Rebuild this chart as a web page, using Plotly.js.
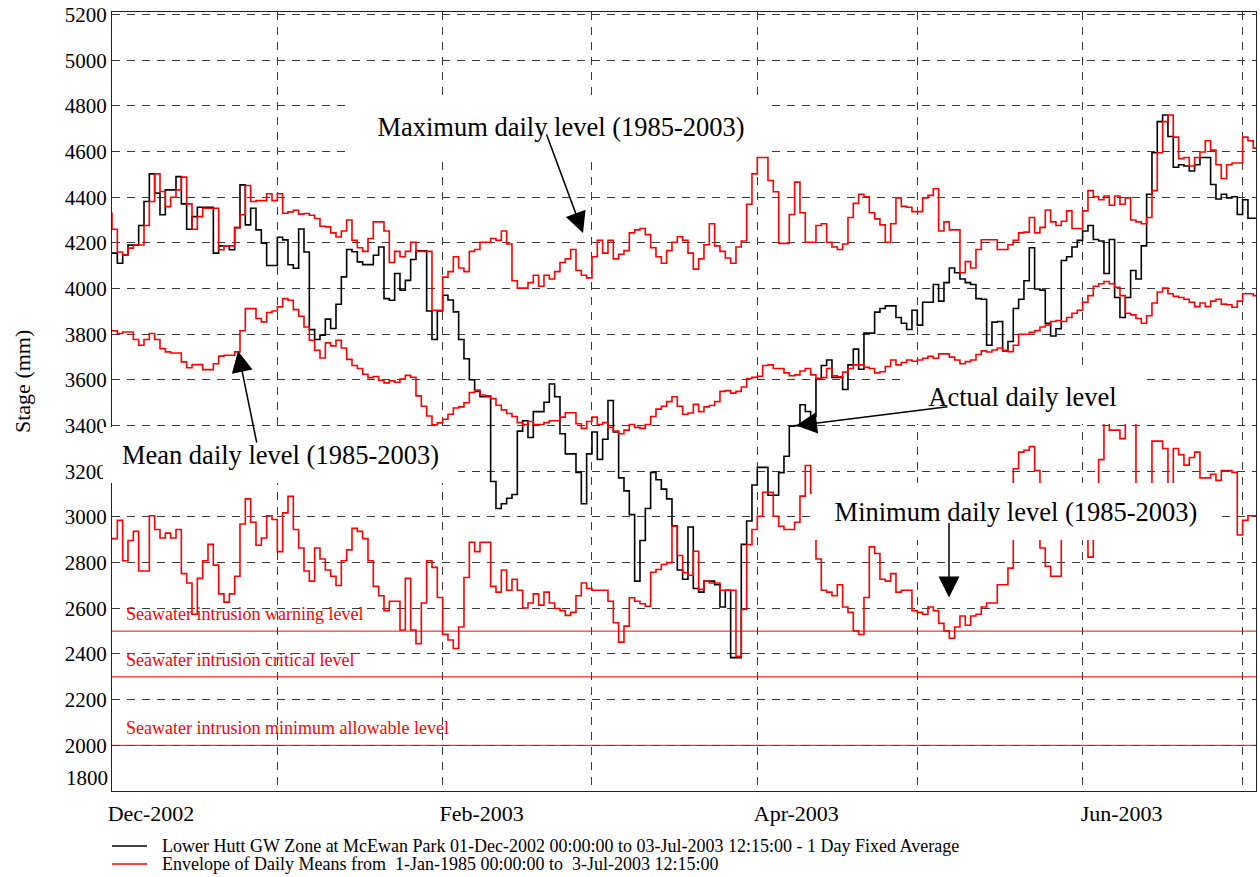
<!DOCTYPE html>
<html>
<head>
<meta charset="utf-8">
<script src="https://cdn.plot.ly/plotly-3.0.1.min.js"></script>
<style>
html,body{margin:0;padding:0;background:#fff;}
#chart{width:1260px;height:877px;}
</style>
</head>
<body>
<div id="chart"></div>
<script>
// ---------- DATA ----------
// day offsets from 1-Dec-2002 00:00, stage in mm (step series, 1-day fixed averages)
const seriesStart = Date.UTC(2002, 11, 1);
const seriesEndDay = 214.51; // 3-Jul-2003 12:15

const actualSteps = [[0,4155],[1,4111],[2,4147],[3,4190],[5,4276],[6,4381],[7,4502],[8,4418],[9,4323],[10,4432],[12,4490],[13,4371],[14,4260],[15,4315],[16,4356],[19,4155],[20,4187],[22,4170],[23,4267],[24,4454],[25,4279],[26,4352],[27,4257],[28,4199],[29,4101],[31,4225],[32,4213],[33,4104],[34,4089],[35,4261],[36,4160],[37,3820],[38,3777],[39,3796],[40,3866],[41,3825],[42,3931],[43,4051],[44,4171],[45,4161],[46,4117],[47,4105],[49,4146],[50,4182],[51,3956],[52,3949],[53,4066],[54,3993],[55,4036],[56,4127],[57,4165],[59,3902],[60,3777],[61,3902],[62,3971],[63,3950],[64,3898],[65,3777],[66,3693],[67,3601],[68,3550],[69,3526],[71,3155],[72,3037],[73,3058],[74,3082],[75,3098],[76,3376],[77,3421],[78,3348],[79,3461],[81,3502],[82,3582],[83,3526],[84,3364],[85,3276],[87,3195],[88,3058],[89,3276],[90,3372],[91,3252],[92,3340],[93,3510],[94,3372],[95,3171],[96,3114],[97,3010],[98,2719],[99,2897],[100,3037],[101,3195],[102,3163],[103,3122],[104,3079],[105,2961],[106,2768],[107,2727],[108,2956],[109,2687],[110,2671],[111,2719],[113,2703],[114,2606],[115,2679],[116,2384],[118,2880],[119,2982],[120,3140],[121,3217],[123,3095],[125,3194],[126,3266],[127,3397],[128,3400],[129,3491],[130,3462],[131,3440],[132,3606],[133,3663],[134,3687],[135,3611],[137,3558],[138,3666],[139,3735],[140,3647],[141,3805],[143,3897],[144,3913],[145,3924],[147,3873],[148,3848],[149,3821],[150,3905],[151,3840],[152,3940],[154,4018],[155,3945],[156,4026],[157,4090],[158,4069],[159,4042],[160,4026],[161,4018],[162,3956],[163,3953],[164,3752],[165,3853],[166,3856],[167,3727],[168,3768],[169,3913],[170,3953],[171,4034],[172,4179],[173,3998],[174,3993],[175,3848],[176,3792],[177,3824],[178,4123],[179,4139],[180,4182],[181,4211],[182,4252],[183,4276],[184,4215],[185,4208],[186,4066],[187,4215],[188,3961],[189,3873],[190,3961],[191,4079],[192,4042],[193,4187],[194,4413],[195,4595],[196,4731],[197,4760],[198,4666],[199,4531],[200,4542],[201,4537],[202,4515],[203,4542],[204,4574],[206,4456],[207,4392],[208,4413],[209,4397],[210,4402],[211,4324],[212,4389],[213,4308],[214.51,4308]];

const maxSteps = [[-1,4330],[0,4260],[1,4160],[2,4147],[3,4177],[4,4191],[6,4276],[7,4381],[8,4502],[9,4425],[10,4359],[11,4400],[12,4432],[13,4488],[14,4371],[15,4260],[16,4315],[17,4352],[20,4170],[21,4187],[23,4267],[24,4323],[25,4451],[26,4381],[27,4385],[29,4415],[30,4385],[31,4415],[32,4330],[33,4336],[34,4343],[35,4326],[36,4329],[37,4321],[38,4307],[39,4273],[40,4270],[41,4244],[42,4226],[43,4252],[44,4300],[45,4211],[46,4179],[47,4163],[48,4219],[49,4292],[51,4252],[52,4114],[53,4163],[54,4139],[55,4163],[56,4203],[57,4163],[60,3905],[62,4050],[63,4074],[64,4139],[65,4090],[66,4074],[67,4163],[68,4171],[69,4203],[71,4219],[72,4211],[73,4252],[74,4195],[75,4034],[76,4002],[78,4026],[79,4058],[80,4010],[81,4058],[82,4042],[83,4074],[84,4114],[85,4130],[86,4171],[87,4079],[88,4058],[89,4047],[90,4139],[91,4211],[92,4155],[93,4211],[94,4130],[95,4150],[96,4166],[97,4244],[98,4257],[99,4263],[100,4236],[101,4179],[102,4139],[103,4111],[104,4166],[105,4203],[106,4227],[107,4211],[108,4155],[109,4085],[110,4130],[111,4192],[112,4284],[113,4187],[114,4163],[115,4134],[116,4111],[117,4182],[118,4208],[119,4369],[120,4502],[121,4574],[123,4473],[124,4424],[125,4198],[127,4324],[128,4466],[129,4332],[130,4203],[132,4276],[133,4284],[134,4203],[135,4182],[136,4171],[137,4195],[138,4311],[139,4373],[140,4413],[141,4402],[142,4332],[143,4305],[144,4279],[145,4203],[146,4284],[147,4397],[148,4360],[149,4356],[150,4337],[152,4397],[153,4408],[154,4437],[155,4252],[156,4292],[157,4257],[159,4069],[160,4118],[161,4090],[162,4171],[163,4214],[166,4171],[168,4192],[169,4211],[170,4244],[171,4247],[172,4311],[173,4244],[174,4268],[175,4344],[176,4292],[177,4276],[178,4295],[179,4340],[180,4263],[182,4340],[183,4429],[184,4402],[185,4389],[186,4405],[187,4365],[188,4405],[189,4369],[190,4397],[191,4300],[192,4292],[193,4284],[194,4311],[195,4429],[196,4595],[197,4731],[198,4760],[199,4663],[200,4569],[201,4574],[202,4537],[203,4574],[204,4598],[205,4647],[206,4606],[207,4542],[208,4482],[209,4542],[210,4550],[212,4663],[213,4647],[214,4615],[214.51,4615]];

const meanSteps = [[0,3815],[1,3803],[2,3810],[4,3777],[5,3752],[6,3777],[7,3803],[8,3777],[9,3737],[10,3723],[11,3718],[13,3679],[14,3653],[15,3667],[17,3645],[19,3671],[20,3704],[21,3708],[23,3723],[24,3815],[25,3912],[27,3869],[28,3854],[29,3895],[30,3902],[31,3920],[32,3956],[33,3949],[34,3908],[35,3879],[36,3832],[37,3774],[38,3730],[39,3696],[40,3762],[41,3749],[42,3774],[43,3740],[44,3690],[45,3663],[46,3650],[47,3625],[48,3610],[49,3615],[50,3598],[51,3587],[52,3596],[53,3590],[54,3604],[55,3620],[56,3612],[57,3530],[58,3485],[59,3442],[60,3403],[61,3412],[62,3428],[63,3450],[64,3477],[65,3482],[66,3500],[67,3545],[68,3556],[69,3534],[70,3530],[71,3518],[72,3489],[73,3469],[74,3453],[75,3440],[76,3413],[77,3405],[78,3418],[79,3405],[81,3413],[82,3421],[84,3437],[85,3456],[87,3408],[88,3388],[89,3418],[90,3437],[91,3405],[92,3413],[93,3392],[94,3376],[95,3364],[96,3380],[97,3405],[98,3392],[99,3388],[100,3405],[101,3440],[102,3472],[103,3485],[104,3505],[105,3526],[106,3485],[107,3450],[108,3455],[109,3493],[110,3461],[111,3482],[112,3488],[113,3505],[114,3550],[115,3553],[116,3542],[117,3550],[118,3569],[119,3606],[120,3611],[121,3616],[122,3663],[123,3666],[124,3650],[126,3631],[127,3618],[128,3622],[129,3639],[130,3650],[131,3622],[132,3606],[133,3610],[134,3650],[135,3618],[136,3614],[137,3634],[138,3650],[139,3666],[141,3655],[142,3650],[143,3631],[144,3636],[145,3659],[146,3687],[147,3666],[148,3676],[149,3687],[150,3682],[151,3687],[152,3695],[153,3703],[154,3695],[155,3714],[157,3700],[158,3687],[159,3671],[160,3680],[161,3687],[162,3711],[163,3727],[164,3722],[165,3731],[166,3740],[167,3730],[168,3724],[169,3752],[170,3800],[172,3808],[173,3816],[174,3832],[175,3840],[176,3856],[177,3860],[178,3856],[179,3873],[180,3892],[181,3905],[182,3940],[183,3969],[184,4010],[185,4021],[186,4031],[187,4021],[188,4005],[189,3969],[190,3892],[191,3885],[192,3869],[193,3848],[194,3881],[195,3937],[196,3985],[197,4002],[198,3977],[199,3966],[200,3961],[201,3953],[202,3940],[203,3921],[204,3937],[205,3921],[206,3945],[207,3953],[208,3932],[209,3929],[210,3918],[211,3945],[212,3977],[214,3969],[214.51,3969]];

const minSteps = [[0,2905],[1,2985],[2,2808],[3,2897],[4,2937],[5,2763],[7,3005],[8,2945],[9,2908],[10,2929],[11,2908],[12,2945],[13,2752],[14,2711],[15,2574],[16,2731],[17,2808],[18,2880],[19,2789],[20,2663],[21,2627],[22,2663],[23,2740],[24,2969],[25,3079],[26,2977],[27,2876],[28,2908],[29,3005],[30,2989],[31,2848],[32,3018],[33,3090],[34,2945],[35,2864],[36,2763],[37,2719],[38,2864],[39,2816],[40,2768],[41,2740],[42,2700],[43,2808],[44,2856],[45,2950],[46,2937],[47,2905],[48,2808],[49,2696],[50,2655],[51,2590],[52,2631],[54,2505],[55,2731],[56,2505],[57,2445],[58,2623],[59,2808],[60,2779],[61,2647],[62,2486],[63,2461],[64,2424],[65,2518],[66,2735],[67,2889],[68,2848],[69,2889],[71,2696],[72,2671],[73,2768],[74,2679],[75,2727],[76,2679],[77,2601],[78,2623],[79,2663],[80,2614],[81,2671],[82,2623],[83,2599],[84,2590],[85,2569],[86,2582],[87,2655],[88,2711],[89,2687],[90,2679],[93,2631],[94,2537],[95,2452],[96,2522],[97,2646],[98,2631],[99,2620],[100,2609],[101,2758],[102,2770],[103,2792],[104,2800],[105,2959],[106,2831],[107,2756],[108,2745],[109,2850],[110,2683],[111,2719],[112,2711],[114,2679],[117,2390],[118,2595],[119,2879],[120,2945],[121,3003],[122,3108],[124,3003],[125,2959],[126,2945],[128,2977],[129,3091],[130,3225],[131,3105],[132,2816],[133,2679],[134,2671],[135,2655],[136,2703],[137,2606],[138,2582],[139,2501],[140,2485],[141,2647],[142,2869],[143,2840],[144,2727],[145,2719],[146,2752],[147,2671],[148,2679],[150,2590],[151,2582],[152,2574],[153,2606],[154,2590],[155,2534],[156,2501],[157,2469],[158,2518],[159,2566],[160,2526],[161,2566],[162,2574],[163,2606],[164,2623],[166,2703],[168,2776],[169,3211],[170,3284],[171,3292],[172,3308],[173,3203],[174,2864],[175,2784],[176,2740],[178,3050],[183,2824],[184,3050],[185,3251],[186,3420],[187,3380],[189,3343],[190,3450],[192,3050],[195,3332],[197,3300],[198,3100],[199,3300],[200,3273],[201,3227],[202,3260],[203,3284],[204,3171],[206,3187],[207,3160],[208,3203],[210,3195],[211,2921],[212,2985],[213,3005],[214.51,3005]];

const seawaterLevels = [2500, 2300, 2000];
const seawaterLabels = ['Seawater intrusion warning level', 'Seawater intrusion critical level', 'Seawater intrusion minimum allowable level'];

const monthTicks = ['2002-12-01','2003-01-01','2003-02-01','2003-03-01','2003-04-01','2003-05-01','2003-06-01','2003-07-01'];
const monthLabels = ['Dec-2002','','Feb-2003','','Apr-2003','','Jun-2003',''];
const stageTicks = [1800,2000,2200,2400,2600,2800,3000,3200,3400,3600,3800,4000,4200,4400,4600,4800,5000,5200];
const stageTitle = 'Stage (mm)';

const legendNames = ['Lower Hutt GW Zone at McEwan Park 01-Dec-2002 00:00:00 to 03-Jul-2003 12:15:00 - 1 Day Fixed Average',
                     'Envelope of Daily Means from  1-Jan-1985 00:00:00 to  3-Jul-2003 12:15:00'];
const legendColors = ['#000000', '#ff0000'];

// ---------- BUILD ----------
function dayToDate(d) {
  return new Date(seriesStart + d * 86400000).toISOString().slice(0, 19).replace('T', ' ');
}
function stepTrace(steps, color, name) {
  return {
    type: 'scatter', mode: 'lines',
    x: steps.map(p => dayToDate(p[0])),
    y: steps.map(p => p[1]),
    line: {shape: 'hv', color: color, width: 1.6},
    name: name, showlegend: false, hoverinfo: 'skip'
  };
}

const traces = [
  stepTrace(actualSteps, legendColors[0], legendNames[0]),
  stepTrace(maxSteps, legendColors[1], 'Maximum daily level (1985-2003)'),
  stepTrace(meanSteps, legendColors[1], 'Mean daily level (1985-2003)'),
  stepTrace(minSteps, legendColors[1], 'Minimum daily level (1985-2003)')
];

const serif = 'Liberation Serif, Times New Roman, serif';
const plotL = 112, plotW = 1144, plotT = 12, plotB = 791, plotH = 779;
const yMin = stageTicks[0];
const px = v => (v - plotL) / plotW;
const py = v => (plotB - v) / plotH;

const shapes = seawaterLevels.map(lv => ({
  type: 'line', xref: 'paper', x0: 0, x1: 1, yref: 'y', y0: lv, y1: lv,
  line: {color: '#ff0000', width: 1}, layer: 'above'
}));

const annotations = [];
seawaterLevels.forEach((lv, i) => {
  annotations.push({
    xref: 'paper', x: px(124), xanchor: 'left',
    yref: 'y', y: lv, yanchor: 'bottom', yshift: 5,
    text: seawaterLabels[i], showarrow: false,
    font: {family: serif, size: 18, color: '#ff0000'}
  });
});

// lowest stage label sits just above the bottom frame, as in the original
annotations.push({
  xref: 'paper', x: 0, xanchor: 'right', xshift: -2,
  yref: 'y', y: yMin, yanchor: 'middle', yshift: 13,
  text: String(yMin), showarrow: false, font: {family: serif, size: 21, color: '#000'}
});

// y axis title
annotations.push({
  xref: 'paper', yref: 'paper', x: px(22), y: py(382), xanchor: 'center', yanchor: 'middle',
  text: stageTitle, textangle: -90, showarrow: false, font: {family: serif, size: 22, color: '#000'}
});

// legend (drawn as line samples + text below the plot)
legendNames.forEach((nm, i) => {
  const rowY = 846 + i * 18;
  shapes.push({
    type: 'line', xref: 'paper', yref: 'paper',
    x0: px(112), x1: px(147), y0: py(rowY), y1: py(rowY),
    line: {color: legendColors[i], width: 1.3}, layer: 'above'
  });
  annotations.push({
    xref: 'paper', yref: 'paper', x: px(160), y: py(rowY), xanchor: 'left', yanchor: 'middle',
    text: nm, showarrow: false, font: {family: serif, size: 18, color: '#000'}
  });
});

function box(text, cx, cy, w, h) {
  return {
    xref: 'paper', yref: 'paper', x: px(cx), y: py(cy), xanchor: 'center', yanchor: 'middle',
    text: text, showarrow: false, width: w, height: h, bgcolor: '#ffffff',
    borderpad: 0, borderwidth: 0, font: {family: serif, size: 26.5, color: '#000'}
  };
}
annotations.push(box('Maximum daily level (1985-2003)', 561, 127, 418, 56));
annotations.push(box('Mean daily level (1985-2003)', 280.5, 455, 355, 56));
annotations.push(box('Actual daily level', 1022.5, 397, 237, 54));
annotations.push(box('Minimum daily level (1985-2003)', 1016, 511.5, 408, 57));

function arrow(tx, ty, ax, ay) {
  return {
    xref: 'paper', yref: 'paper', x: px(tx), y: py(ty), text: '', showarrow: true,
    ax: ax, ay: ay, arrowhead: 2, arrowsize: 2.8, arrowwidth: 1.5, arrowcolor: '#000'
  };
}
annotations.push(arrow(583, 233, -37, -100));
annotations.push(arrow(238, 351, 19, 93));
annotations.push(arrow(796, 425.6, 153, -19));
annotations.push(arrow(949, 597.6, 0, -76));

const gridStyle = {showgrid: true, gridcolor: '#3a3a3a', griddash: '8px,7px', gridwidth: 1};

const layout = {
  width: 1260, height: 877,
  margin: {l: plotL, r: 1260 - plotL - plotW, t: plotT, b: 877 - plotB, autoexpand: false},
  paper_bgcolor: '#ffffff', plot_bgcolor: '#ffffff',
  font: {family: serif, color: '#000', size: 21},
  showlegend: false,
  xaxis: Object.assign({
    type: 'date', range: [dayToDate(0), dayToDate(seriesEndDay)],
    tickmode: 'array', tickvals: monthTicks, ticktext: monthLabels,
    ticks: '', ticklabelshift: 39, ticklabelstandoff: 3,
    tickfont: {family: serif, size: 22, color: '#000'},
    showline: true, mirror: true, linecolor: '#222', linewidth: 1, zeroline: false
  }, gridStyle),
  yaxis: Object.assign({
    range: [yMin, 5211], tickmode: 'array', tickvals: stageTicks.slice(1),
    ticks: '', tickfont: {family: serif, size: 21, color: '#000'},
    showline: true, mirror: true, linecolor: '#222', linewidth: 1, zeroline: false
  }, gridStyle),
  shapes: shapes,
  annotations: annotations
};

Plotly.newPlot('chart', traces, layout, {displayModeBar: false, staticPlot: true});
</script>
</body>
</html>
